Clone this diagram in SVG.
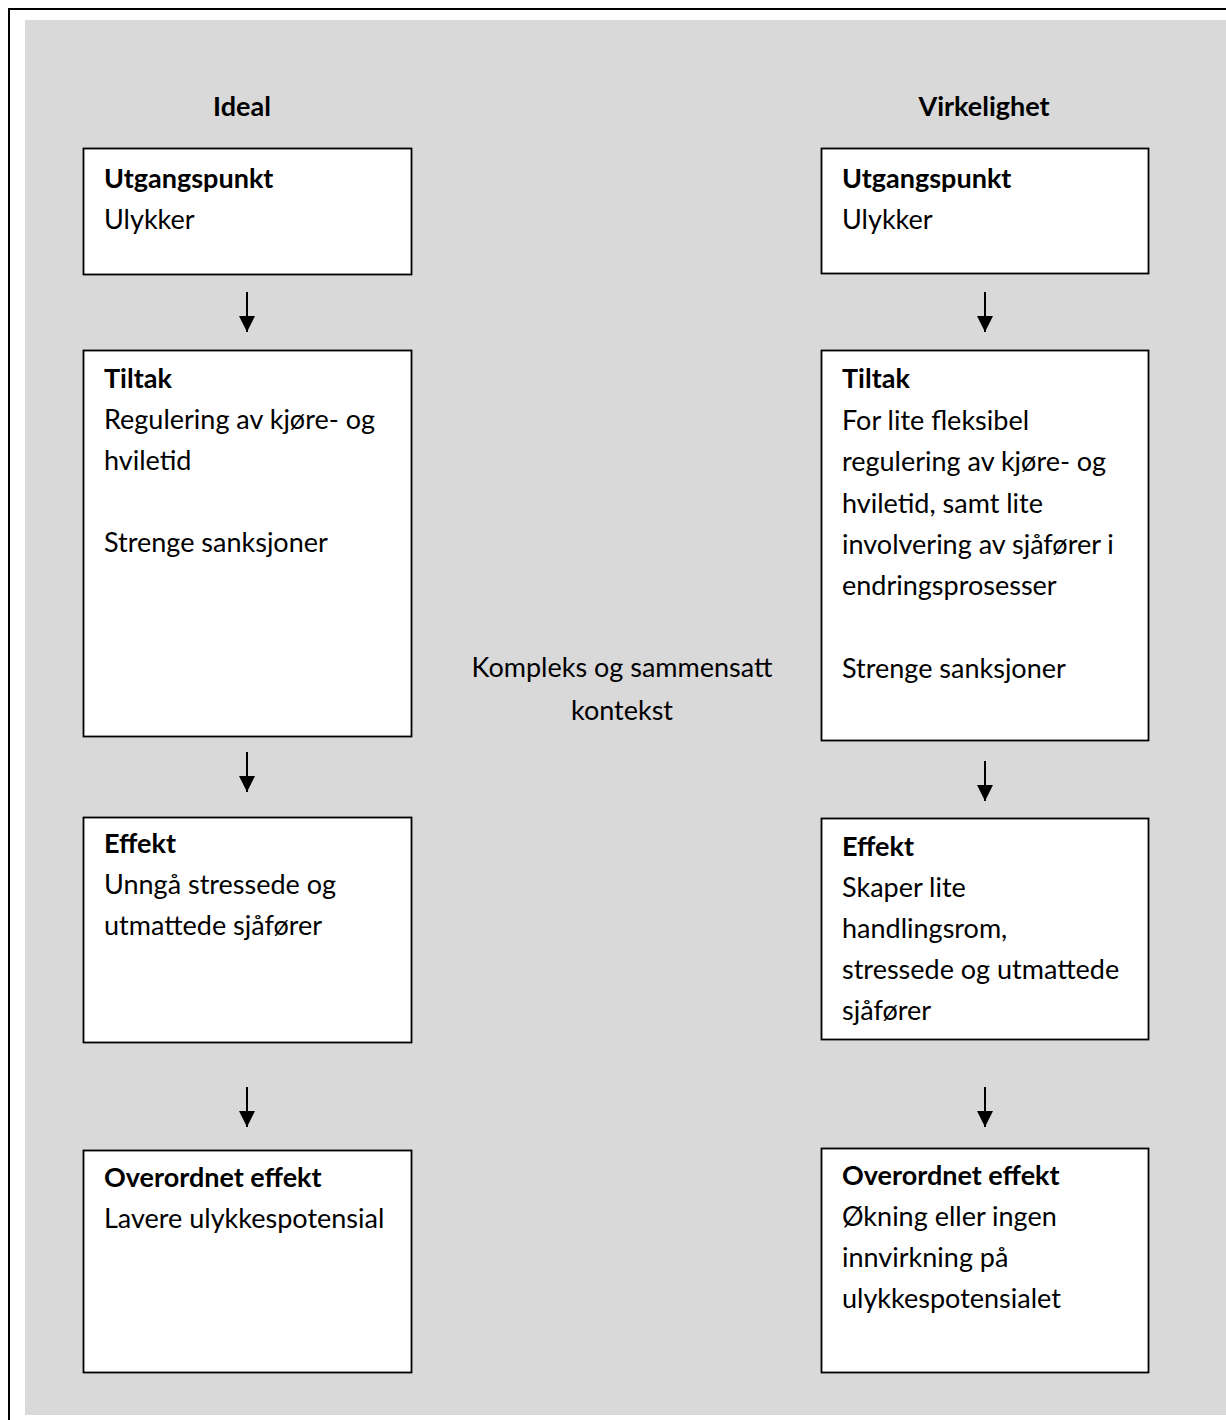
<svg xmlns="http://www.w3.org/2000/svg" width="1226" height="1420" viewBox="0 0 1226 1420">
<defs>
<style>
.t{font-family:Lato,"Open Sans","Liberation Sans",sans-serif;font-size:27px;fill:#000}
.b{font-weight:bold}
.box{fill:#fff;stroke:#000;stroke-width:1.8}
.arr{stroke:#000;stroke-width:2;fill:none}
</style>
<marker id="ah" viewBox="0 0 16 16" refX="16" refY="8" markerWidth="16" markerHeight="16" markerUnits="userSpaceOnUse" orient="auto">
<path d="M0,0 L16,8 L0,16 Z" fill="#000"/>
</marker>
</defs>
<rect x="0" y="0" width="1226" height="1420" fill="#fff"/>
<rect x="9" y="9" width="1240" height="1430" fill="#fff" stroke="#000" stroke-width="2"/>
<rect x="25" y="20" width="1201" height="1395" fill="#d9d9d9"/>

<g id="hdr-ideal"><text class="t b" x="242" y="116" text-anchor="middle">Ideal</text></g>
<g id="hdr-virk"><text class="t b" x="984" y="116" text-anchor="middle">Virkelighet</text></g>
<g id="context"><text class="t" x="622" y="677" text-anchor="middle">Kompleks og sammensatt</text><text class="t" x="622" y="720" text-anchor="middle">kontekst</text></g>

<g id="L1"><rect class="box" x="83.5" y="148.5" width="328" height="126"/>
<text class="t b" x="104" y="188">Utgangspunkt</text><text class="t" x="104" y="229">Ulykker</text></g>
<g id="L2"><rect class="box" x="83.5" y="350.5" width="328" height="386"/>
<text class="t b" x="104" y="388">Tiltak</text><text class="t" x="104" y="429">Regulering av kjøre- og</text><text class="t" x="104" y="470">hviletid</text><text class="t" x="104" y="552">Strenge sanksjoner</text></g>
<g id="L3"><rect class="box" x="83.5" y="817.5" width="328" height="225"/>
<text class="t b" x="104" y="853">Effekt</text><text class="t" x="104" y="894">Unngå stressede og</text><text class="t" x="104" y="935">utmattede sjåfører</text></g>
<g id="L4"><rect class="box" x="83.5" y="1150.5" width="328" height="222"/>
<text class="t b" x="104" y="1187">Overordnet effekt</text><text class="t" x="104" y="1228">Lavere ulykkespotensial</text></g>

<g id="R1"><rect class="box" x="821.5" y="148.5" width="327" height="125"/>
<text class="t b" x="842" y="188">Utgangspunkt</text><text class="t" x="842" y="229">Ulykker</text></g>
<g id="R2"><rect class="box" x="821.5" y="350.5" width="327" height="390"/>
<text class="t b" x="842" y="388">Tiltak</text><text class="t" x="842" y="429.5">For lite fleksibel</text><text class="t" x="842" y="471">regulering av kjøre- og</text><text class="t" x="842" y="512.5">hviletid, samt lite</text><text class="t" x="842" y="554">involvering av sjåfører i</text><text class="t" x="842" y="595">endringsprosesser</text><text class="t" x="842" y="678">Strenge sanksjoner</text></g>
<g id="R3"><rect class="box" x="821.5" y="818.5" width="327" height="221"/>
<text class="t b" x="842" y="856">Effekt</text><text class="t" x="842" y="897">Skaper lite</text><text class="t" x="842" y="938">handlingsrom,</text><text class="t" x="842" y="979">stressede og utmattede</text><text class="t" x="842" y="1020">sjåfører</text></g>
<g id="R4"><rect class="box" x="821.5" y="1148.5" width="327" height="224"/>
<text class="t b" x="842" y="1185">Overordnet effekt</text><text class="t" x="842" y="1226">Økning eller ingen</text><text class="t" x="842" y="1267">innvirkning på</text><text class="t" x="842" y="1308">ulykkespotensialet</text></g>

<g id="connectors">
<line class="arr" x1="247" y1="292" x2="247" y2="332" marker-end="url(#ah)"/>
<line class="arr" x1="247" y1="752" x2="247" y2="792" marker-end="url(#ah)"/>
<line class="arr" x1="247" y1="1087" x2="247" y2="1127" marker-end="url(#ah)"/>
<line class="arr" x1="985" y1="292" x2="985" y2="332" marker-end="url(#ah)"/>
<line class="arr" x1="985" y1="761" x2="985" y2="801" marker-end="url(#ah)"/>
<line class="arr" x1="985" y1="1087" x2="985" y2="1127" marker-end="url(#ah)"/>
</g>
</svg>
